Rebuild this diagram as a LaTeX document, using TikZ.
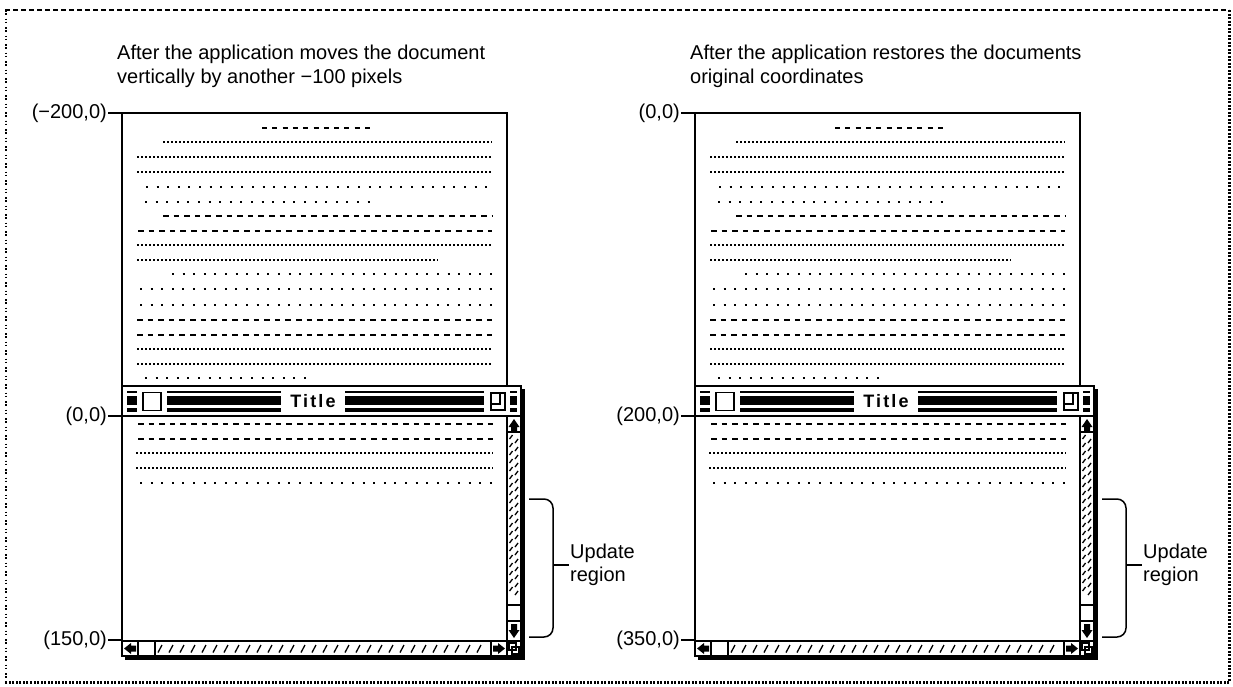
\documentclass[tikz,border=0pt]{standalone}
\usepackage{fontspec}
\setmainfont{Liberation Sans}
\usetikzlibrary{positioning}

\tikzset{
  winline/.style={line width=1.5pt},
  docframe/.style={draw, line width=1.8pt, fill=white},
  finedot/.style={line width=1.7pt, dash pattern=on 1.7pt off 2.3pt},
  spacedot/.style={line width=2pt, dash pattern=on 2pt off 8.6pt},
  dashrule/.style={line width=2pt, dash pattern=on 5.5pt off 5.1pt},
  shortdash/.style={line width=2pt, dash pattern=on 5pt off 5.3pt},
  hatch/.style={line width=1.3pt},
  coordlbl/.style={font=\fontsize{20}{24}\selectfont, inner sep=1pt},
  captext/.style={font=\fontsize{20}{24}\selectfont, align=left, inner sep=0pt, anchor=north west},
  updtext/.style={font=\fontsize{20}{23}\selectfont, align=left, inner sep=1pt},
  titletext/.style={font={\fontsize{18}{20}\selectfont\bfseries\addfontfeatures{LetterSpace=12}}, inner sep=0pt}
}

% one panel: page, window, labels and brace
\newcommand{\docpanel}[6]{%
\begin{scope}[xshift=#2]
  \node[captext] (#1cap) at (117,45) {#3};
  % the page
  \draw[docframe] (122,113) rectangle (507,386);
  \foreach \ly/\lx/\lr/\ls in {128/262/375/shortdash, 142/163/492/finedot,
      157/137/492/finedot, 172/137/492/finedot, 187/146/490/spacedot,
      202/145/372/spacedot, 216/163/492/dashrule, 231/138/492/dashrule,
      245/137/492/finedot, 260/137/438/finedot, 274/172/492/spacedot,
      289/140/492/spacedot, 305/140/492/spacedot, 320/137/492/dashrule,
      335/137/492/dashrule, 349/137/492/finedot, 364/137/492/finedot,
      378/145/308/spacedot}
    \draw[\ls] (\lx,\ly) -- (\lr,\ly);
  % the window
  \fill (125,389) rectangle (525,660);
  \draw[winline, fill=white] (122,386) rectangle (521,656);
  \draw[winline] (122,416) -- (521,416);
  \foreach \sa/\sb in {127/137, 167/281, 345/484, 510/517}
    \foreach \sy/\sz in {390.5/393, 395.5/404.5, 408/411.5}
      \fill (\sa,\sy) rectangle (\sb,\sz);
  \node[titletext] (#1title) at (313,401) {Title};
  \draw[winline, fill=white] (143,392.5) rectangle (161,410.5);
  \draw[winline, fill=white] (491,393) rectangle (505,410);
  \draw[winline] (491,404) -- (500,404) -- (500,393);
  \foreach \ly/\lx/\lr/\ls in {424/138/495/dashrule, 439/138/495/dashrule,
      453/136/493/finedot, 468/136/493/finedot, 483/140/492/spacedot}
    \draw[\ls] (\lx,\ly) -- (\lr,\ly);
  % scroll bars
  \draw[winline] (507,416) -- (507,656);
  \draw[winline] (507,432) -- (521,432) (507,605) -- (521,605)
    (507,621) -- (521,621) (507,641) -- (521,641);
  \draw[winline] (122,641) -- (507,641) (138,641) -- (138,656)
    (155,641) -- (155,656) (491,641) -- (491,656);
  \fill (508.5,427) -- (514,419) -- (519.5,427) -- (517,427) -- (517,431)
    -- (511,431) -- (511,427) -- cycle;
  \fill (508.5,630) -- (514,638) -- (519.5,630) -- (517,630) -- (517,624)
    -- (511,624) -- (511,630) -- cycle;
  \fill (124,648.5) -- (131,643) -- (131,645.5) -- (136,645.5) -- (136,651.5)
    -- (131,651.5) -- (131,654) -- cycle;
  \fill (505,648.5) -- (498,643) -- (498,645.5) -- (493,645.5) -- (493,651.5)
    -- (498,651.5) -- (498,654) -- cycle;
  \draw[line width=1.6pt] (509,643) rectangle (516,650) (512,647) rectangle (519,654);
  \foreach \yy in {435,443,...,593} {
    \draw[hatch] (509.5,\yy+4) -- (512.5,\yy);
    \draw[hatch] (515,\yy+8) -- (518,\yy+4);
  }
  \foreach \xx in {158,169,...,483}
    \draw[hatch] (\xx,652.5) -- (\xx+4,645);
  % coordinate labels
  \coordinate (#1nw) at (122,113);
  \coordinate (#1cw) at (122,416);
  \coordinate (#1sw) at (122,640);
  \node[coordlbl, left=14pt of #1nw] (#1toplbl) {#4};
  \node[coordlbl, left=14pt of #1cw] (#1midlbl) {#5};
  \node[coordlbl, left=14pt of #1sw] (#1botlbl) {#6};
  \draw[winline] (#1toplbl) -- (#1nw);
  \draw[winline] (#1midlbl) -- (#1cw);
  \draw[winline] (#1botlbl) -- (#1sw);
  % update region brace
  \coordinate (#1bt) at (529,499);
  \coordinate (#1bb) at (529,637);
  \coordinate (#1tip) at (553,565);
  \draw[winline, rounded corners=9pt] (#1bt) -- (#1bt -| #1tip) -- (#1bb -| #1tip) -- (#1bb);
  \node[updtext, right=16pt of #1tip] (#1upd) {Update\\region};
  \draw[winline] (#1tip) -- (#1upd.west);
\end{scope}}

\begin{document}
\begin{tikzpicture}[x=1pt, y=-1pt]
  \useasboundingbox (0,0) rectangle (1233,686);
  % dotted frame
  \draw[line width=1.2pt, dash pattern=on 5pt off 3pt] (5,10) -- (1229,10);
  \draw[line width=1.5pt, dash pattern=on 1.5pt off 1.5pt on 1.5pt off 4pt] (6,10) -- (6,682);
  \draw[line width=3pt, dash pattern=on 2pt off 1.5pt] (1229,10) -- (1229,682) -- (5,682);

  \docpanel{L}{0pt}{After the application moves the document\\vertically by another −100 pixels}{(−200,0)}{(0,0)}{(150,0)}
  \docpanel{R}{573pt}{After the application restores the documents\\original coordinates}{(0,0)}{(200,0)}{(350,0)}
\end{tikzpicture}
\end{document}
